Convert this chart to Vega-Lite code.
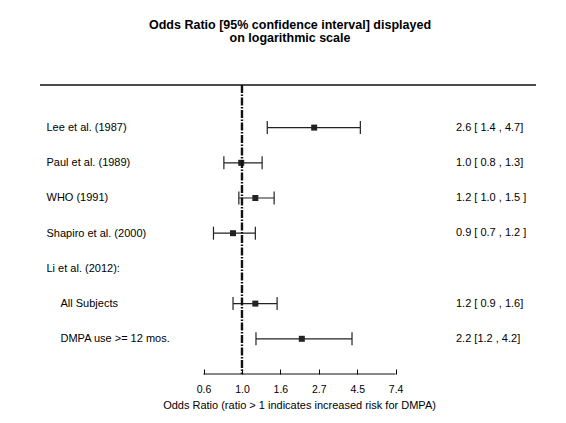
{
  "$schema": "https://vega.github.io/schema/vega-lite/v6.json",
  "width": 496,
  "height": 289,
  "autosize": "none",
  "padding": {"left": 40, "top": 85, "right": 30, "bottom": 49},
  "config": {"view": {"stroke": null}, "font": "Liberation Sans"},
  "title": {
    "text": ["Odds Ratio [95% confidence interval] displayed", "on logarithmic scale"],
    "fontSize": 12.5,
    "fontWeight": "bold",
    "color": "black",
    "anchor": "middle",
    "dx": 2,
    "lineHeight": 13,
    "offset": 39
  },
  "data": {
    "values": [
      {"study": "Lee et al. (1987)", "or": 2.56, "lo": 1.39, "hi": 4.67, "ci": "2.6 [ 1.4 , 4.7]"},
      {"study": "Paul et al. (1989)", "or": 0.99, "lo": 0.79, "hi": 1.3, "ci": "1.0 [ 0.8 , 1.3]"},
      {"study": "WHO (1991)", "or": 1.19, "lo": 0.96, "hi": 1.52, "ci": "1.2 [ 1.0 , 1.5 ]"},
      {"study": "Shapiro et al. (2000)", "or": 0.89, "lo": 0.69, "hi": 1.19, "ci": "0.9 [ 0.7 , 1.2 ]"},
      {"study": "Li et al. (2012):"},
      {"study": "All Subjects", "or": 1.19, "lo": 0.89, "hi": 1.58, "ci": "1.2 [ 0.9 , 1.6]"},
      {"study": "DMPA use >= 12 mos.", "or": 2.18, "lo": 1.2, "hi": 4.19, "ci": "2.2 [1.2  , 4.2]"}
    ]
  },
  "layer": [
    {
      "encoding": {
        "y": {
          "field": "study",
          "type": "nominal",
          "sort": null,
          "scale": {
            "type": "point",
            "domain": ["Lee et al. (1987)", "Paul et al. (1989)", "WHO (1991)", "Shapiro et al. (2000)", "Li et al. (2012):", "All Subjects", "DMPA use >= 12 mos.", ""],
            "padding": 0.605,
            "align": 1
          },
          "axis": {
            "orient": "left",
            "title": null,
            "domain": false,
            "ticks": false,
            "tickSize": 0,
            "grid": false,
            "labelAlign": "left",
            "labelBaseline": "middle",
            "labelFontSize": 11,
            "labelColor": "black",
            "labelLimit": 0,
            "labelPadding": {
              "condition": {"test": "datum.value == 'All Subjects' || datum.value == 'DMPA use >= 12 mos.'", "value": -20},
              "value": -6
            }
          }
        }
      },
      "layer": [
        {
          "mark": {"type": "rule", "color": "#222", "strokeWidth": 1.2},
          "encoding": {
            "x": {"field": "lo", "type": "quantitative", "scale": {"type": "log", "domain": [0.0721, 45.98], "nice": false, "zero": false}},
            "x2": {"field": "hi"}
          }
        },
        {
          "mark": {"type": "tick", "color": "#222", "size": 13, "thickness": 1.2, "opacity": 1},
          "encoding": {"x": {"field": "lo", "type": "quantitative"}}
        },
        {
          "mark": {"type": "tick", "color": "#222", "size": 13, "thickness": 1.2, "opacity": 1},
          "encoding": {"x": {"field": "hi", "type": "quantitative"}}
        },
        {
          "mark": {"type": "square", "color": "#222", "size": 36, "opacity": 1},
          "encoding": {
            "x": {
              "field": "or",
              "type": "quantitative",
              "axis": {
                "orient": "bottom",
                "values": [0.60653, 1, 1.64872, 2.71828, 4.48169, 7.38906],
                "labelExpr": "format(datum.value, '.1f')",
                "domain": false,
                "grid": false,
                "tickSize": -5,
                "tickColor": "black",
                "tickWidth": 1,
                "labelPadding": 15,
                "labelFontSize": 10.5,
                "labelColor": "black",
                "title": "Odds Ratio (ratio > 1 indicates increased risk for DMPA)",
                "titleFontSize": 11,
                "titleFontWeight": "normal",
                "titleColor": "black",
                "titlePadding": 5,
                "titleX": 259
              }
            }
          }
        },
        {
          "transform": [{"filter": "datum.ci != null"}],
          "mark": {"type": "text", "align": "left", "baseline": "middle", "fontSize": 11, "color": "black"},
          "encoding": {
            "x": {"datum": 16.22, "type": "quantitative"},
            "text": {"field": "ci", "type": "nominal"}
          }
        }
      ]
    },
    {
      "data": {"values": [{}]},
      "layer": [
        {
          "mark": {"type": "rule", "color": "#111", "strokeWidth": 1.3},
          "encoding": {
            "y": {"datum": 1, "type": "quantitative", "scale": {"domain": [0, 1]}, "axis": null}
          }
        },
        {
          "mark": {"type": "rule", "color": "#111", "strokeWidth": 1},
          "encoding": {
            "x": {"datum": 0.60653, "type": "quantitative"},
            "x2": {"datum": 7.38906},
            "y": {"datum": 0, "type": "quantitative", "scale": {"domain": [0, 1]}, "axis": null}
          }
        },
        {
          "mark": {"type": "rule", "color": "#111", "strokeWidth": 2.4, "strokeDash": [8, 1.5, 1.5, 1.5]},
          "encoding": {
            "x": {"datum": 1, "type": "quantitative"}
          }
        }
      ]
    }
  ],
  "resolve": {"scale": {"y": "independent"}}
}
